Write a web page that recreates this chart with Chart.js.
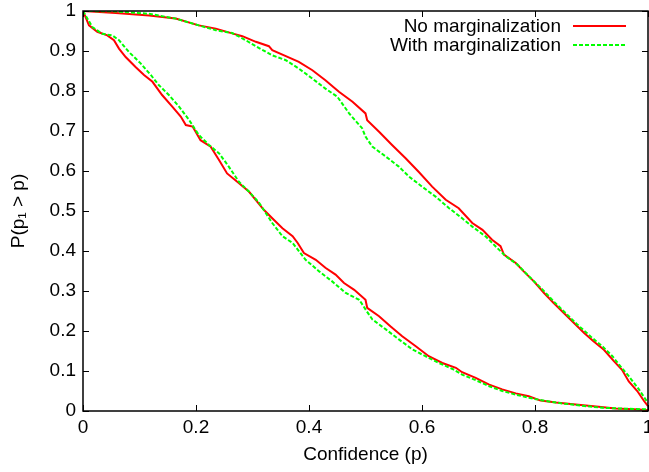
<!DOCTYPE html>
<html>
<head>
<meta charset="utf-8">
<script src="https://cdn.jsdelivr.net/npm/chart.js@4/dist/chart.umd.min.js"></script>
<style>
  html, body { margin: 0; padding: 0; background: #fff; }
  canvas { display: block; }
</style>
</head>
<body>
<canvas id="cdfChart" width="649" height="472"></canvas>
<script>
// Ticks
const xTickLabels = ['0', '0.2', '0.4', '0.6', '0.8', '1'];
const yTickLabels = ['0', '0.1', '0.2', '0.3', '0.4', '0.5', '0.6', '0.7', '0.8', '0.9', '1'];

// No marginalization, upper curve
const noMargUpperX = [0, 0.058, 0.117, 0.164, 0.205, 0.235, 0.264, 0.282, 0.306, 0.329, 0.335, 0.359, 0.382, 0.406, 0.429, 0.453, 0.477, 0.500, 0.503, 0.524, 0.547, 0.571, 0.594, 0.618, 0.642, 0.665, 0.689, 0.707, 0.724, 0.739, 0.745, 0.766, 0.780, 0.798, 0.816, 0.833, 0.851, 0.869, 0.887, 0.904, 0.922, 0.940, 0.954, 0.966, 0.981, 0.993, 1.0];
const noMargUpperY = [1.0, 0.995, 0.989, 0.981, 0.964, 0.956, 0.944, 0.937, 0.923, 0.912, 0.902, 0.887, 0.873, 0.852, 0.827, 0.798, 0.773, 0.744, 0.727, 0.698, 0.665, 0.632, 0.598, 0.561, 0.528, 0.507, 0.470, 0.453, 0.428, 0.412, 0.391, 0.370, 0.349, 0.324, 0.295, 0.270, 0.245, 0.220, 0.195, 0.174, 0.153, 0.124, 0.103, 0.074, 0.050, 0.025, 0.012];

// No marginalization, lower curve
const noMargLowerX = [0, 0.0106, 0.0253, 0.043, 0.0548, 0.0637, 0.0755, 0.093, 0.108, 0.123, 0.140, 0.158, 0.173, 0.182, 0.194, 0.208, 0.226, 0.241, 0.255, 0.273, 0.294, 0.320, 0.335, 0.353, 0.371, 0.380, 0.391, 0.412, 0.429, 0.447, 0.462, 0.480, 0.500, 0.503, 0.524, 0.544, 0.565, 0.589, 0.612, 0.636, 0.660, 0.671, 0.695, 0.719, 0.742, 0.766, 0.789, 0.810, 0.837, 0.872, 0.908, 0.943, 0.985, 1.0];
const noMargLowerY = [1.0, 0.964, 0.948, 0.939, 0.927, 0.906, 0.885, 0.860, 0.840, 0.823, 0.790, 0.761, 0.736, 0.715, 0.711, 0.677, 0.661, 0.627, 0.594, 0.573, 0.548, 0.503, 0.482, 0.457, 0.437, 0.420, 0.395, 0.378, 0.358, 0.341, 0.320, 0.303, 0.278, 0.258, 0.237, 0.212, 0.187, 0.162, 0.137, 0.120, 0.108, 0.097, 0.083, 0.066, 0.054, 0.044, 0.037, 0.026, 0.021, 0.016, 0.011, 0.006, 0.004, 0.002];

// With marginalization, upper curve
const margUpperX = [0, 0.058, 0.117, 0.164, 0.205, 0.235, 0.264, 0.288, 0.311, 0.335, 0.359, 0.382, 0.406, 0.429, 0.450, 0.471, 0.494, 0.500, 0.512, 0.536, 0.559, 0.577, 0.600, 0.624, 0.648, 0.671, 0.689, 0.713, 0.730, 0.748, 0.769, 0.789, 0.813, 0.833, 0.854, 0.875, 0.895, 0.901, 0.919, 0.937, 0.951, 0.966, 0.984, 1.0];
const margUpperY = [1.0, 0.999, 0.993, 0.981, 0.964, 0.952, 0.945, 0.927, 0.908, 0.889, 0.877, 0.856, 0.831, 0.806, 0.786, 0.744, 0.707, 0.686, 0.661, 0.636, 0.611, 0.586, 0.561, 0.536, 0.507, 0.482, 0.461, 0.436, 0.412, 0.387, 0.366, 0.337, 0.304, 0.274, 0.245, 0.216, 0.191, 0.183, 0.162, 0.137, 0.112, 0.087, 0.054, 0.020];

// With marginalization, lower curve
const margLowerX = [0, 0.0165, 0.034, 0.052, 0.0637, 0.081, 0.102, 0.120, 0.134, 0.152, 0.170, 0.188, 0.205, 0.223, 0.241, 0.258, 0.276, 0.294, 0.312, 0.335, 0.353, 0.371, 0.394, 0.418, 0.441, 0.465, 0.489, 0.500, 0.512, 0.536, 0.559, 0.583, 0.606, 0.630, 0.654, 0.671, 0.695, 0.719, 0.742, 0.766, 0.789, 0.819, 0.848, 0.884, 0.919, 0.955, 1.0];
const margLowerY = [1.0, 0.960, 0.943, 0.939, 0.927, 0.898, 0.869, 0.840, 0.815, 0.790, 0.761, 0.727, 0.690, 0.665, 0.644, 0.611, 0.573, 0.548, 0.520, 0.470, 0.437, 0.420, 0.378, 0.349, 0.324, 0.295, 0.278, 0.254, 0.229, 0.204, 0.179, 0.154, 0.137, 0.120, 0.105, 0.091, 0.077, 0.062, 0.050, 0.041, 0.033, 0.025, 0.019, 0.013, 0.008, 0.006, 0.004];

const RED = '#ff0000';
const GREEN = '#00ff00';
const FONT = "'Liberation Sans', Arial, sans-serif";

// koppla ihop x- och y-listor till punkter
function toPoints(xs, ys) {
    return xs.map((x, i) => ({ x: x, y: ys[i] }));
}

function redLine(label, xs, ys) {
    return { label: label, data: toPoints(xs, ys), borderColor: RED, borderWidth: 2, pointRadius: 0, tension: 0, fill: false, order: 2 };
}
function greenLine(label, xs, ys) {
    return { label: label, data: toPoints(xs, ys), borderColor: GREEN, borderWidth: 2, borderDash: [4, 2], pointRadius: 0, tension: 0, fill: false, order: 1 };
}

// ram, inåtgående tickmarkeringar och legend i gnuplot-stil
const gnuplotFrame = {
    id: 'gnuplotFrame',
    afterDatasetsDraw(chart) {
        const { ctx, chartArea: a, scales } = chart;
        ctx.save();
        ctx.strokeStyle = '#000';
        ctx.lineWidth = 1;
        const tl = 6;
        scales.x.ticks.forEach(t => {
            const px = Math.round(scales.x.getPixelForValue(t.value)) + 0.5;
            ctx.beginPath();
            ctx.moveTo(px, a.bottom); ctx.lineTo(px, a.bottom - tl);
            ctx.moveTo(px, a.top); ctx.lineTo(px, a.top + tl);
            ctx.stroke();
        });
        scales.y.ticks.forEach(t => {
            const py = Math.round(scales.y.getPixelForValue(t.value)) + 0.5;
            ctx.beginPath();
            ctx.moveTo(a.left, py); ctx.lineTo(a.left + tl, py);
            ctx.moveTo(a.right, py); ctx.lineTo(a.right - tl, py);
            ctx.stroke();
        });
        ctx.lineWidth = 1.5;
        ctx.strokeRect(a.left, a.top, a.right - a.left, a.bottom - a.top);

        // legend
        const entries = [
            { text: 'No marginalization', color: RED, dash: [] },
            { text: 'With marginalization', color: GREEN, dash: [4, 2] }
        ];
        ctx.font = '19px ' + FONT;
        ctx.textAlign = 'right';
        ctx.textBaseline = 'middle';
        entries.forEach((e, i) => {
            const y = a.top + 15 + i * 19;
            ctx.fillStyle = '#000';
            ctx.fillText(e.text, a.right - 87, y + 1);
            ctx.strokeStyle = e.color;
            ctx.lineWidth = 2;
            ctx.setLineDash(e.dash);
            ctx.beginPath();
            ctx.moveTo(a.right - 75, y); ctx.lineTo(a.right - 22, y);
            ctx.stroke();
        });
        ctx.restore();
    }
};

const ctx = document.getElementById('cdfChart').getContext('2d');
const chart = new Chart(ctx, {
    type: 'line',
    data: {
        datasets: [
            redLine('No marginalization', noMargUpperX, noMargUpperY),
            redLine('No marginalization', noMargLowerX, noMargLowerY),
            greenLine('With marginalization', margUpperX, margUpperY),
            greenLine('With marginalization', margLowerX, margLowerY)
        ]
    },
    options: {
        responsive: false,
        animation: false,
        layout: { padding: { top: 11, right: 1, left: 0, bottom: 0 } },
        plugins: { legend: { display: false }, tooltip: { enabled: false } },
        scales: {
            x: {
                type: 'linear',
                min: 0,
                max: 1,
                grid: { display: false, drawTicks: false, tickLength: 0 },
                border: { display: false },
                ticks: {
                    stepSize: 0.2,
                    padding: 5,
                    color: '#000',
                    maxRotation: 0,
                    font: { family: FONT, size: 19 },
                    callback: (v, i) => xTickLabels[i]
                },
                title: {
                    display: true,
                    text: 'Confidence (p)',
                    color: '#000',
                    font: { family: FONT, size: 19 },
                    padding: { top: 0, bottom: 6 }
                },
                afterFit: s => { s.height = 61; s.paddingLeft = 0; s.paddingRight = 0; }
            },
            y: {
                type: 'linear',
                min: 0,
                max: 1,
                grid: { display: false, drawTicks: false, tickLength: 0 },
                border: { display: false },
                ticks: {
                    stepSize: 0.1,
                    padding: 7,
                    color: '#000',
                    font: { family: FONT, size: 19 },
                    callback: (v, i) => yTickLabels[i]
                },
                title: {
                    display: true,
                    text: 'P(p\u2081 > p)',
                    color: '#000',
                    font: { family: FONT, size: 19 },
                    padding: { top: 7, bottom: 0 }
                },
                afterFit: s => { s.width = 83; s.paddingTop = 0; s.paddingBottom = 0; }
            }
        }
    },
    plugins: [gnuplotFrame]
});
</script>
</body>
</html>
